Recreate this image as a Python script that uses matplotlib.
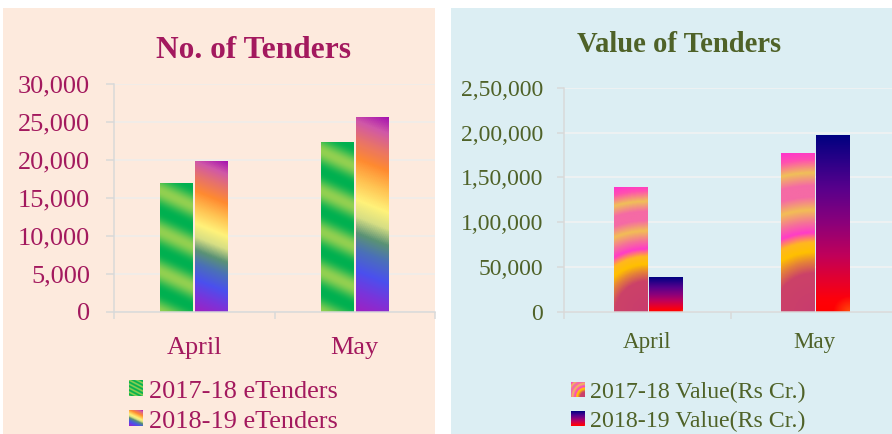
import numpy as np
import matplotlib
matplotlib.use('Agg')
import matplotlib.pyplot as plt
from matplotlib.patches import Rectangle
from matplotlib.colors import LinearSegmentedColormap, to_rgb
from matplotlib.legend_handler import HandlerBase
from matplotlib.image import BboxImage
from matplotlib.transforms import Bbox, TransformedBbox

# ---------------- data ----------------
categories = ['April', 'May']
etenders_1718 = [16850, 22250]
etenders_1819 = [19750, 25650]
value_1718 = [139000, 177000]
value_1819 = [38800, 197500]
left_ticks = [0, 5000, 10000, 15000, 20000, 25000, 30000]
left_tick_labels = ['0', '5,000', '10,000', '15,000', '20,000', '25,000', '30,000']
right_ticks = [0, 50000, 100000, 150000, 200000, 250000]
right_tick_labels = ['0', '50,000', '1,00,000', '1,50,000', '2,00,000', '2,50,000']
left_title = 'No. of Tenders'
right_title = 'Value of Tenders'
left_series_names = ['2017-18 eTenders', '2018-19 eTenders']
right_series_names = ['2017-18 Value(Rs Cr.)', '2018-19 Value(Rs Cr.)']

# ---------------- style ----------------
W_PX, H_PX, DPI = 892, 434, 100
FONT = 'Liberation Serif'
LEFT_COLOR = '#A3195E'
RIGHT_COLOR = '#4F6228'
LEFT_BG = '#FDEADD'
RIGHT_BG = '#DCEEF3'
AXIS_COLOR = '#D9D9D9'
PT = 0.72  # points per pixel at 100 dpi

plt.rcParams['font.family'] = [FONT, 'DejaVu Serif']

fig = plt.figure(figsize=(W_PX / DPI, H_PX / DPI), dpi=DPI, facecolor='white')


def fx(px):
    return px / W_PX


def fy(py):
    return 1 - py / H_PX


# panel backgrounds
fig.patches.append(Rectangle((fx(3), 0), fx(435) - fx(3), fy(8), transform=fig.transFigure,
                             facecolor=LEFT_BG, edgecolor='none', zorder=-5))
fig.patches.append(Rectangle((fx(451), 0), 1 - fx(451), fy(8), transform=fig.transFigure,
                             facecolor=RIGHT_BG, edgecolor='none', zorder=-5))


# ---------------- gradients ----------------
def cmap_from(stops):
    return LinearSegmentedColormap.from_list('g', stops)


rainbow_cmap = cmap_from([(0.0, '#A020C0'), (0.10, '#7A34DA'), (0.20, '#4A50EE'), (0.30, '#4A70B8'),
                          (0.38, '#5A9275'), (0.46, '#D6DE84'), (0.54, '#FFF27A'), (0.64, '#FFC252'),
                          (0.74, '#FF8A30'), (0.84, '#E6716E'), (0.92, '#D058A8'), (1.0, '#A410B0')])
fire_cmap = cmap_from([(0.0, '#C83C6E'), (0.24, '#CC4268'), (0.31, '#E4803A'), (0.37, '#FFC000'),
                       (0.43, '#FFB820'), (0.49, '#FF3CC8'), (0.55, '#F5709A'), (0.63, '#F2BE55'),
                       (0.71, '#F56AA5'), (0.78, '#F56AA5'), (0.86, '#F0C058'), (0.94, '#FF50B0'),
                       (1.0, '#FF33CC')])
navy_cmap = cmap_from([(0.0, '#FF0000'), (0.06, '#FF0008'), (0.18, '#E4002E'), (0.32, '#C0005A'),
                       (0.5, '#8C007A'), (0.7, '#58008C'), (0.85, '#2C0088'), (1.0, '#000080')])


def grid_xy(w, h):
    x = np.arange(w) + 0.5
    y = np.arange(h) + 0.5
    return np.meshgrid(x, y)


def grad_green(w, h, period=40.0):
    X, Y = grid_xy(w, h)
    t = (Y + 0.45 * X) / period
    m = (0.5 + 0.5 * np.cos(2 * np.pi * t)) ** 1.2
    dark = np.array(to_rgb('#00B050'))
    light = np.array(to_rgb('#92D050'))
    return dark * (1 - m[..., None]) + light * m[..., None]


def grad_rainbow(w, h):
    X, Y = grid_xy(w, h)
    t = (Y + 0.4 * X) / (h + 0.4 * w)
    return rainbow_cmap(t)[..., :3]


def grad_fire(w, h):
    X, Y = grid_xy(w, h)
    r = np.sqrt((w - X) ** 2 + Y ** 2) / np.hypot(w, h)
    return fire_cmap(r)[..., :3]


def grad_navy(w, h):
    X, Y = grid_xy(w, h)
    base = navy_cmap(Y / h)[..., :3]
    d = np.sqrt((w - X) ** 2 + Y ** 2)
    k = np.clip(1 - d / (0.09 * h), 0, 1) * 0.75
    orange = np.array(to_rgb('#FF6A10'))
    return base * (1 - k[..., None]) + orange * k[..., None]


def fill_bars(ax, container, func):
    for p in container.patches:
        x0, y0 = p.get_x(), p.get_y()
        x1, y1 = x0 + p.get_width(), y0 + p.get_height()
        (px0, py0), (px1, py1) = ax.transData.transform([(x0, y0), (x1, y1)])
        w = max(int(round(abs(px1 - px0))), 2)
        h = max(int(round(abs(py1 - py0))), 2)
        img = func(w, h)
        ax.imshow(img, extent=(x0, x1, y0, y1), origin='lower', aspect='auto',
                  interpolation='bilinear', zorder=2)


class HandlerImg(HandlerBase):
    def __init__(self, func, size):
        super().__init__()
        self.func = func
        self.size = size

    def create_artists(self, legend, orig_handle, xdescent, ydescent, width, height, fontsize, trans):
        bb = Bbox.from_bounds(-xdescent, -ydescent, width, height)
        im = BboxImage(TransformedBbox(bb, trans), interpolation='bilinear')
        arr = self.func(self.size, self.size)[::-1]
        im.set_data(arr)
        return [im]


def style_axes(ax, color, tick_len_y, tick_len_x, ypad, xpad, ysize, xsize, grid_color):
    for s in ('top', 'right'):
        ax.spines[s].set_visible(False)
    for s in ('left', 'bottom'):
        ax.spines[s].set_color(AXIS_COLOR)
        ax.spines[s].set_linewidth(1.5 * PT)
    ax.set_facecolor('none')
    ax.set_axisbelow(True)
    ax.yaxis.grid(True, color=grid_color, linewidth=1.6 * PT)
    ax.tick_params(axis='y', which='major', length=tick_len_y * PT, width=1.5 * PT, color=AXIS_COLOR,
                   pad=ypad * PT, labelsize=ysize, labelcolor=color)
    ax.tick_params(axis='x', which='major', length=0, pad=xpad * PT, labelsize=xsize, labelcolor=color)
    ax.tick_params(axis='x', which='minor', length=tick_len_x * PT, width=1.5 * PT, color=AXIS_COLOR)
    ax.set_xticks([-0.5, 0.5, 1.5], minor=True)


# ---------------- left panel ----------------
axL = fig.add_axes([fx(114), fy(312), fx(435) - fx(114), (312 - 84) / H_PX])
xL = np.arange(len(categories))
wL, offL = 0.2056, 0.109
bL1 = axL.bar(xL - offL, etenders_1718, wL, facecolor='none', edgecolor='none', label=left_series_names[0])
bL2 = axL.bar(xL + offL, etenders_1819, wL, facecolor='none', edgecolor='none', label=left_series_names[1])
axL.set_xlim(-0.5, 1.5)
axL.set_ylim(0, 30000)
axL.set_yticks(left_ticks, labels=left_tick_labels)
axL.set_xticks(xL, labels=categories)
style_axes(axL, LEFT_COLOR, 8, 7, 16, 25, 18.9, 18.9, '#EFEDEA')
fill_bars(axL, bL1, grad_green)
fill_bars(axL, bL2, grad_rainbow)
axL.set_xlim(-0.5, 1.5)
axL.set_ylim(0, 30000)
fig.text(fx(253.5), fy(58), left_title, ha='center', va='baseline', fontsize=22.6,
         fontweight='bold', color=LEFT_COLOR)
legL = axL.legend(handles=[bL1, bL2], labels=left_series_names, loc='upper left',
                  bbox_to_anchor=(fx(129), fy(381)), bbox_transform=fig.transFigure,
                  frameon=False, borderpad=0, borderaxespad=0, fontsize=18.9,
                  handlelength=0.53, handleheight=0.53, handletextpad=0.23, labelspacing=0.3,
                  labelcolor=LEFT_COLOR,
                  handler_map={bL1: HandlerImg(lambda w, h: grad_green(w, h, period=7.0), 28),
                               bL2: HandlerImg(grad_rainbow, 28)})

# ---------------- right panel ----------------
axR = fig.add_axes([fx(564), fy(311.7), 1 - fx(564), (311.7 - 88) / H_PX])
xR = np.arange(len(categories))
wR, offR = 0.1976, 0.1048
bR1 = axR.bar(xR - offR, value_1718, wR, facecolor='none', edgecolor='none', label=right_series_names[0])
bR2 = axR.bar(xR + offR, value_1819, wR, facecolor='none', edgecolor='none', label=right_series_names[1])
axR.set_xlim(-0.5, 1.464)
axR.set_ylim(0, 250000)
axR.set_yticks(right_ticks, labels=right_tick_labels)
axR.set_xticks(xR, labels=categories)
style_axes(axR, RIGHT_COLOR, 7, 7, 14, 20, 17.0, 16.6, '#F2F2F2')
fill_bars(axR, bR1, grad_fire)
fill_bars(axR, bR2, grad_navy)
axR.set_xlim(-0.5, 1.464)
axR.set_ylim(0, 250000)
fig.text(fx(679), fy(52.5), right_title, ha='center', va='baseline', fontsize=20.6,
         fontweight='bold', color=RIGHT_COLOR)
legR = axR.legend(handles=[bR1, bR2], labels=right_series_names, loc='upper left',
                  bbox_to_anchor=(fx(571), fy(382)), bbox_transform=fig.transFigure,
                  frameon=False, borderpad=0, borderaxespad=0, fontsize=17.2,
                  handlelength=0.58, handleheight=0.58, handletextpad=0.21, labelspacing=0.32,
                  labelcolor=RIGHT_COLOR,
                  handler_map={bR1: HandlerImg(grad_fire, 28),
                               bR2: HandlerImg(grad_navy, 28)})

fig.savefig('out.png', dpi=DPI, facecolor='white')
